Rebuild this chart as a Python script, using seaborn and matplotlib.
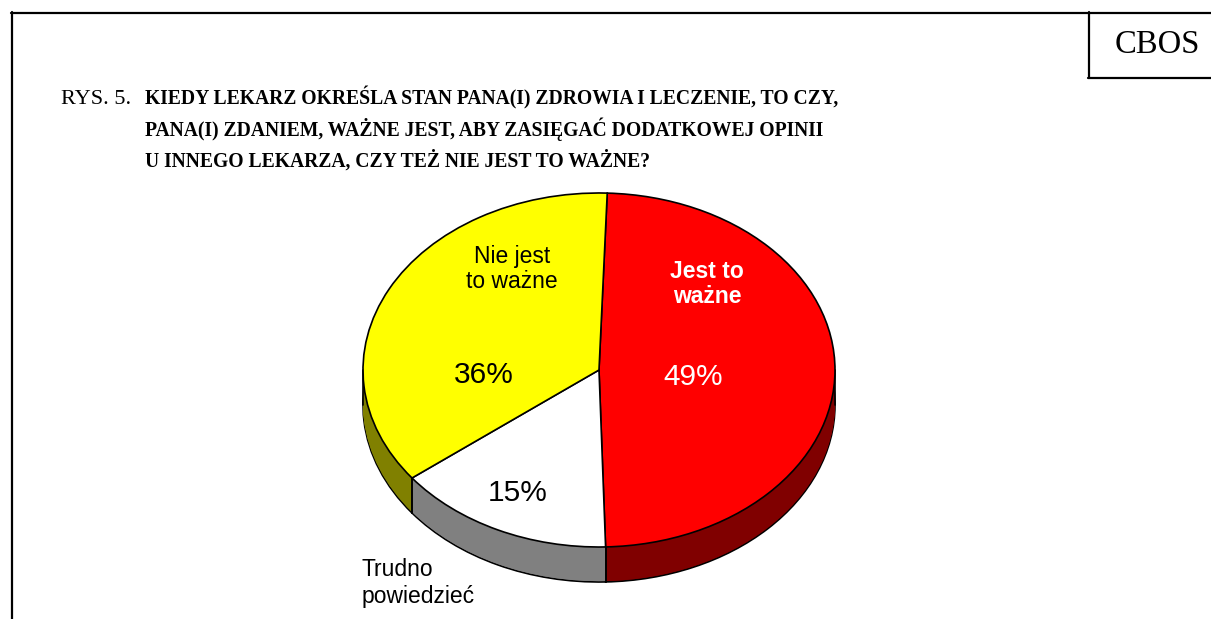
import numpy as np
import matplotlib
matplotlib.use("Agg")
import matplotlib.pyplot as plt
from matplotlib.lines import Line2D
import seaborn as sns

# ---- data ----
categories = ["Jest to ważne", "Trudno powiedzieć", "Nie jest to ważne"]
values = [49, 15, 36]
pct_labels = ["49%", "15%", "36%"]
top_colors = ["#FF0000", "#FFFFFF", "#FFFF00"]
side_colors = ["#800000", "#808080", "#808000"]

title_prefix = "RYS. 5."
title_lines = [
    "KIEDY LEKARZ OKREŚLA STAN PANA(I) ZDROWIA I LECZENIE, TO CZY,",
    "PANA(I) ZDANIEM, WAŻNE JEST, ABY ZASIĘGAĆ DODATKOWEJ OPINII",
    "U INNEGO LEKARZA, CZY TEŻ NIE JEST TO WAŻNE?",
]

sns.set_theme(style="white")
plt.rcParams["font.family"] = ["Liberation Sans", "DejaVu Sans"]
plt.rcParams["text.color"] = "black"

W, H = 1211, 619
fig = plt.figure(figsize=(W / 100, H / 100), dpi=100)
fig.patch.set_facecolor("white")

# pie geometry (pixels)
cx, cy, rx, ry, depth_px = 599, 370, 236, 177, 35

ax = fig.add_axes([0, 0, 1, 1])
ax.set_axis_off()

def px2d(px, py):
    return (px - cx) / rx, (cy - py) / ry

depth = depth_px / ry
n_layers = 40
for k in range(n_layers, 0, -1):
    d = depth * k / n_layers
    lw = 1.2 if k == n_layers else 0
    ax.pie(values, colors=side_colors, startangle=88, counterclock=False,
           radius=1, center=(0, -d), frame=True,
           wedgeprops=dict(edgecolor="black", linewidth=lw, antialiased=True))

wedges, _ = ax.pie(values, colors=top_colors, startangle=88, counterclock=False,
                   radius=1, center=(0, 0), frame=True,
                   wedgeprops=dict(edgecolor="black", linewidth=1.2))
for w in wedges:
    w.set_zorder(5)

# side edges at slice boundaries in front and at extremes
for w in wedges:
    for th in (w.theta1, w.theta2):
        t = np.deg2rad(th)
        if np.sin(t) < 0:
            x0, y0 = np.cos(t), np.sin(t)
            ax.plot([x0, x0], [y0, y0 - depth], color="black", lw=1.2, zorder=4)
for xs in (-1, 1):
    ax.plot([xs, xs], [0, -depth], color="black", lw=1.2, zorder=4)

ax.set_aspect("auto")
ax.set_xlim(-cx / rx, (W - cx) / rx)
ax.set_ylim((cy - H) / ry, cy / ry)
ax.set_xticks([])
ax.set_yticks([])

# labels
def txt(px, py, s, **kw):
    x, y = px2d(px, py)
    ax.text(x, y, s, zorder=10, **kw)

txt(707, 284, "Jest to\nważne", color="white", fontsize=16.5, fontweight="bold",
    ha="center", va="center", linespacing=1.15)
txt(693, 377, pct_labels[0], color="white", fontsize=21.5, ha="center", va="center")
txt(512, 269, "Nie jest\nto ważne", color="black", fontsize=16.5,
    ha="center", va="center", linespacing=1.15)
txt(484, 375, pct_labels[2], color="black", fontsize=21.5, ha="center", va="center")
txt(518, 493, pct_labels[1], color="black", fontsize=21.5, ha="center", va="center")
txt(362, 583, "Trudno\npowiedzieć", color="black", fontsize=16.5,
    ha="left", va="center", linespacing=1.2)

# frame and title
def fx(px):
    return px / W

def fy(py):
    return 1 - py / H

fig.add_artist(Line2D([fx(11), fx(W)], [fy(12.5), fy(12.5)], color="black", lw=1.6))
fig.add_artist(Line2D([fx(11.5), fx(11.5)], [fy(12), fy(H)], color="black", lw=1.6))
fig.add_artist(Line2D([fx(1088.5), fx(1088.5)], [fy(12), fy(78)], color="black", lw=1.6))
fig.add_artist(Line2D([fx(1088), fx(W)], [fy(78), fy(78)], color="black", lw=1.6))

fig.text(fx(1157), fy(53), "CBOS", family="Liberation Serif", fontsize=23.5,
         ha="center", va="baseline", color="black")

fig.text(fx(61), fy(104), title_prefix, family="Liberation Serif", fontsize=16,
         ha="left", va="baseline", color="black")
baselines = [104, 136, 167]
for line, b in zip(title_lines, baselines):
    fig.text(fx(145), fy(b), line, family="Liberation Serif", fontsize=14.1,
             fontweight="bold", ha="left", va="baseline", color="black")

fig.savefig("out.png", dpi=100, facecolor="white")
